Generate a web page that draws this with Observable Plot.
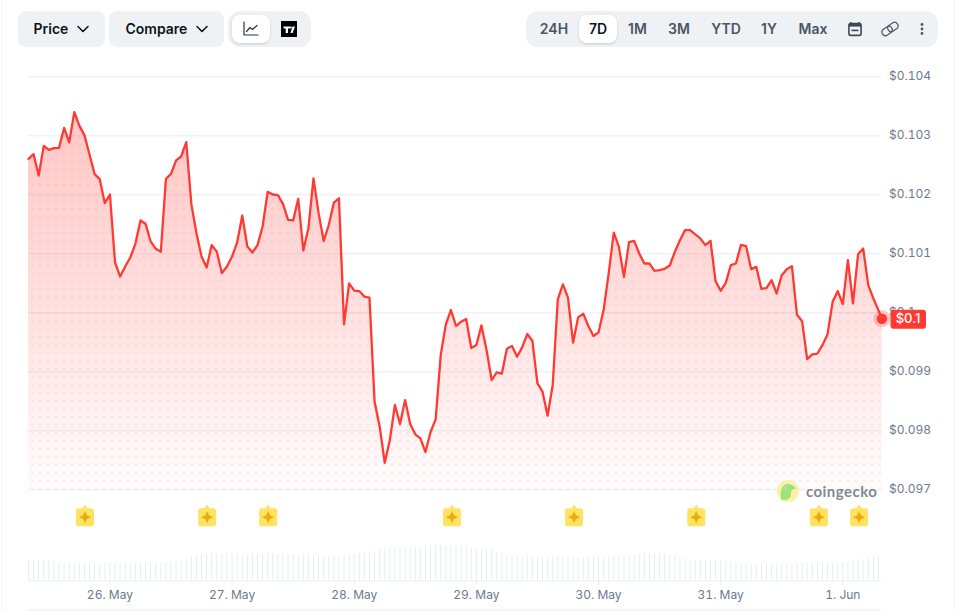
<!DOCTYPE html>
<html>
<head>
<meta charset="utf-8">
<script src="https://cdn.jsdelivr.net/npm/d3@7"></script>
<script src="https://cdn.jsdelivr.net/npm/@observablehq/plot@0.6"></script>
<style>
html,body{margin:0;padding:0;background:#fff;font-family:Inter,sans-serif;overflow:hidden}
#page{position:relative;width:956px;height:611px;overflow:hidden}
.abs{position:absolute}
.pill{position:absolute;top:11px;height:36px;background:#eff2f5;border-radius:8px}
.btnlabel{position:absolute;top:11px;height:36px;line-height:36px;font-size:14px;font-weight:600;white-space:nowrap}
.dark{color:#0d1421}
.range{color:#4b5563;transform:translateX(-50%)}
svg.icon{position:absolute;overflow:visible}
</style>
</head>
<body>
<div id="page">
  <div class="abs" style="left:1px;top:0;width:1px;height:611px;background:#f3f4f6"></div>
  <div class="abs" style="left:954px;top:0;width:1px;height:611px;background:#f3f4f6"></div>

  <div class="pill" style="left:18px;width:87px"></div>
  <div class="btnlabel dark" style="left:33.5px">Price</div>
  <svg class="icon" style="left:76px;top:24px" width="14" height="10" fill="none" stroke="#0d1421" stroke-width="1.6" stroke-linecap="round" stroke-linejoin="round"><path d="M2 2.5 L7 7.5 L12 2.5"/></svg>

  <div class="pill" style="left:109px;width:115px"></div>
  <div class="btnlabel dark" style="left:125.5px">Compare</div>
  <svg class="icon" style="left:195px;top:24px" width="14" height="10" fill="none" stroke="#0d1421" stroke-width="1.6" stroke-linecap="round" stroke-linejoin="round"><path d="M2 2.5 L7 7.5 L12 2.5"/></svg>

  <div class="pill" style="left:228px;width:83px;border-radius:12px"></div>
  <div class="abs" style="left:232px;top:15px;width:38px;height:28px;background:#fff;border-radius:8px;box-shadow:0 1px 3px rgba(20,30,50,.18)"></div>
  <svg class="icon" style="left:243px;top:21px" width="16" height="16" fill="none" stroke="#2b3443" stroke-width="1.2" stroke-linecap="round" stroke-linejoin="round"><path d="M1 1 V14 H15"/><path d="M3.5 10.5 L7 6.5 L9.5 8.5 L14 4.5"/></svg>
  <svg class="icon" style="left:281px;top:21px" width="16" height="16"><rect width="16" height="16" fill="#000"/><path d="M2.5 5.5 H9 V7.5 H7 V12 H4.7 V7.5 H2.5 Z M9.4 12 L11.6 5.5 H14 L11.6 12 Z" fill="#fff"/><circle cx="9.9" cy="6.6" r="1" fill="#fff"/></svg>

  <div class="pill" style="left:526px;width:412px;border-radius:12px"></div>
  <div class="abs" style="left:579px;top:15px;width:38px;height:28px;background:#fff;border-radius:8px;box-shadow:0 1px 3px rgba(20,30,50,.18)"></div>
  <div class="btnlabel range" style="left:554px">24H</div>
  <div class="btnlabel range dark" style="left:598px;color:#0d1421">7D</div>
  <div class="btnlabel range" style="left:637.5px">1M</div>
  <div class="btnlabel range" style="left:679px">3M</div>
  <div class="btnlabel range" style="left:726px">YTD</div>
  <div class="btnlabel range" style="left:769px">1Y</div>
  <div class="btnlabel range" style="left:813px">Max</div>
  <svg class="icon" style="left:848px;top:22px" width="14" height="14"><path d="M3 0 V2 M11 0 V2" stroke="#3f4856" stroke-width="1.6"/><rect x="0.9" y="1.6" width="12.2" height="11.8" rx="1.8" fill="none" stroke="#3f4856" stroke-width="1.6"/><rect x="0.9" y="1.6" width="12.2" height="3" fill="#3f4856"/><rect x="3.5" y="7.6" width="7" height="1.6" fill="#3f4856"/></svg>
  <svg class="icon" style="left:881px;top:22px" width="18" height="14" fill="none" stroke="#4b5563" stroke-width="1.2"><g transform="rotate(-35 9 7)"><rect x="0" y="3.5" width="11" height="7" rx="3.5"/><rect x="7" y="3.5" width="11" height="7" rx="3.5"/></g></svg>
  <svg class="icon" style="left:920px;top:22px" width="4" height="14" fill="#4b5563"><circle cx="2" cy="2.5" r="1.4"/><circle cx="2" cy="7" r="1.4"/><circle cx="2" cy="11.5" r="1.4"/></svg>

  <div class="abs" style="left:28px;top:609px;width:853px;height:2px;background:#f4f5f7"></div>
</div>
<script>
const startTime = "2025-05-25T08:00Z";
const endTime = "2025-06-01T07:42Z";
const prices = [
102610,102689,102327,102830,102762,102791,102796,103135,102887,103401,
103169,103011,102678,102350,102265,101858,102005,100858,100615,100785,
100938,101169,101565,101508,101209,101084,101034,102271,102356,102582,
102649,102892,101842,101350,100954,100768,101147,101034,100672,100785,
100954,101192,101649,101124,101022,101147,101463,102051,102005,101994,
101847,101576,101565,101932,101056,101435,102277,101689,101217,101488,
101866,101940,99804,100499,100375,100369,100273,100256,98493,98069,
97459,97843,98437,98115,98521,98115,97940,97872,97640,97979,
98194,99284,99804,100047,99776,99849,99894,99403,99454,99787,
99369,98860,98990,98968,99392,99437,99256,99414,99640,99527,
98804,98663,98256,98776,100228,100482,100256,99493,99923,99985,
99776,99606,99668,100047,100668,101358,101118,100610,101198,101220,
101005,100836,100836,100712,100723,100746,100802,101034,101231,101401,
101401,101328,101260,101147,101220,100537,100373,100508,100808,100836,
101152,101130,100740,100779,100407,100418,100553,100327,100638,100740,
100791,99966,99859,99214,99294,99310,99452,99638,100186,100367,
100147,100892,100158,100994,101090,100469,100243,100045,99898
].map(v => v / 1e6);
const volumes = [
61,61,61,61,61,58,54,54,54,53,
53,52,52,52,52,52,53,53,54,54,
54,54,54,54,54,54,53,54,56,58,
61,66,73,76,79,81,81,81,81,81,
81,81,76,76,78,81,79,79,81,79,
81,79,78,78,78,78,76,76,74,71,
71,73,76,78,81,81,81,81,89,96,
98,99,101,101,100,100,100,100,101,106,
105,105,105,105,105,105,106,99,96,96,
96,95,86,81,78,76,74,73,73,72,
72,71,71,71,71,70,71,71,70,69,
69,70,71,71,73,74,76,78,79,79,
80,80,81,80,79,79,78,76,68,64,
63,61,61,61,61,61,60,59,58,56,
54,52,50,46,51,50,49,50,51,52,
52,53,53,54,54,54,54,54,54,54,
54,56,58,61,64,66,69,71
];
const eventTimes = [
"2025-05-25T19:06Z","2025-05-26T19:06Z","2025-05-27T07:06Z","2025-05-28T19:12Z",
"2025-05-29T19:12Z","2025-05-30T19:12Z","2025-05-31T19:18Z","2025-06-01T03:12Z"
];
const dayTicks = ["2025-05-26","2025-05-27","2025-05-28","2025-05-29","2025-05-30","2025-05-31","2025-06-01"].map(d => new Date(d + "T00:00Z"));
const priceTicks = [0.097,0.098,0.099,0.1,0.101,0.102,0.103,0.104];
const lastLabel = "$0.1";

const t0 = +new Date(startTime), tEnd = new Date(endTime);
const hour = 3600e3;
const priceRows = prices.map((p,i) => ({time: i < prices.length-1 ? new Date(t0 + i*hour) : tEnd, price: p}));
const volRows = volumes.map((v,i) => ({time: new Date(t0 + i*hour), vol: v}));
const last = priceRows[priceRows.length-1];
const xDomain = [new Date(t0), tEnd];

const defsMark = () => {
  const d = d3.create("svg:defs");
  const g = d.append("linearGradient").attr("id","fade").attr("gradientUnits","userSpaceOnUse")
    .attr("x1",0).attr("x2",0).attr("y1",40).attr("y2",429);
  [[0,.29],[.5,.165],[1,.015]].forEach(([o,a]) => g.append("stop").attr("offset",o).attr("stop-color","#ff3a33").attr("stop-opacity",a));
  const p = d.append("pattern").attr("id","dots").attr("patternUnits","userSpaceOnUse")
    .attr("x",-4).attr("y",1).attr("width",8).attr("height",8);
  p.append("circle").attr("cx",4).attr("cy",4).attr("r",1.4).attr("fill","#ff3a33").attr("fill-opacity",.07);
  return d.node();
};
const badge = {draw(c){
  c.moveTo(-6.5,-9); c.lineTo(-2.5,-9); c.lineTo(0,-12.7); c.lineTo(2.5,-9); c.lineTo(6.5,-9);
  c.quadraticCurveTo(9,-9,9,-6.5); c.lineTo(9,6.5); c.quadraticCurveTo(9,9,6.5,9);
  c.lineTo(-6.5,9); c.quadraticCurveTo(-9,9,-9,6.5); c.lineTo(-9,-6.5); c.quadraticCurveTo(-9,-9,-6.5,-9); c.closePath();
}};
const star = {draw(c){
  c.moveTo(0,-6); c.lineTo(1.9,-1.9); c.lineTo(6,0); c.lineTo(1.9,1.9);
  c.lineTo(0,6); c.lineTo(-1.9,1.9); c.lineTo(-6,0); c.lineTo(-1.9,-1.9); c.closePath();
}};
const tag = {draw(c){
  const l=8.5,r=44,t=-9,b=10,k=3;
  c.moveTo(l+k,t); c.lineTo(r-k,t); c.quadraticCurveTo(r,t,r,t+k); c.lineTo(r,b-k); c.quadraticCurveTo(r,b,r-k,b);
  c.lineTo(l+k,b); c.quadraticCurveTo(l,b,l,b-k); c.lineTo(l,t+k); c.quadraticCurveTo(l,t,l+k,t); c.closePath();
}};
const evDates = eventTimes.map(d => new Date(d));
const fontStyle = {fontFamily:"Inter,sans-serif",fontSize:"12px",background:"none",overflow:"visible",position:"absolute",left:"0"};

const main = Plot.plot({
  width:956, height:475, marginLeft:28, marginRight:74.5, marginTop:16.3, marginBottom:45.7,
  style:{...fontStyle, top:"60px"},
  x:{type:"utc", domain:xDomain, axis:null},
  y:{domain:[0.097,0.104], axis:null},
  marks:[
    defsMark,
    Plot.gridY(priceTicks,{stroke:"#e9ecf1",strokeOpacity:1,strokeWidth:1}),
    Plot.areaY(priceRows,{x:"time",y1:()=>0.097,y2:"price",fill:"url(#fade)"}),
    Plot.areaY(priceRows,{x:"time",y1:()=>0.097,y2:"price",fill:"url(#dots)"}),
    Plot.axisY(priceTicks,{anchor:"right",label:null,tickSize:0,tickPadding:7,dy:-0.7,tickFormat:d3.format("$.3~f"),fill:"#6c7a8d"}),
    Plot.lineY(priceRows,{x:"time",y:"price",stroke:"#ff3a33",strokeWidth:2.3,strokeLinejoin:"round"}),
    Plot.dot([last],{x:"time",y:"price",r:8.5,fill:"#ff3a33",fillOpacity:.28,stroke:"none"}),
    Plot.dot([last],{x:"time",y:"price",r:5.2,fill:"#ff3a33",stroke:"none"}),
    Plot.dot([last],{x:"time",y:"price",symbol:tag,fill:"#ff3a33",stroke:"none"}),
    Plot.text([last],{x:"time",y:"price",text:()=>lastLabel,dx:26,dy:0.5,fill:"#fff",fontWeight:500,fontSize:13}),
    Plot.dot(evDates,{x:d=>d,frameAnchor:"bottom",dy:27.4,symbol:badge,fill:"#ffe262",stroke:"none"}),
    Plot.dot(evDates,{x:d=>d,frameAnchor:"bottom",dy:27.4,symbol:star,fill:"#e8ad0c",stroke:"none"})
  ]
});

const vol = Plot.plot({
  width:956, height:76, marginLeft:28, marginRight:74.5, marginTop:0, marginBottom:30.7,
  style:{...fontStyle, top:"535px"},
  x:{type:"utc", domain:xDomain, axis:null},
  y:{domain:[0,136], axis:null},
  marks:[
    Plot.ruleX(volRows,{x:"time",y1:0,y2:"vol",stroke:"#e9edf3",strokeWidth:1}),
    Plot.ruleY([0],{stroke:"#e9edf3",strokeWidth:1}),
    Plot.axisX(dayTicks,{anchor:"bottom",label:null,tickSize:5,tickPadding:5,stroke:"#e9edf3",fill:"#6c7a8d",tickFormat:d3.utcFormat("%-d. %b")})
  ]
});
const page = document.getElementById("page");
page.append(main, vol);

const logo = document.createElement("div");
logo.className = "abs";
logo.style.cssText = "left:777px;top:480px;width:104px;height:24px";
logo.innerHTML = `<svg width="23" height="23" style="position:absolute;left:0;top:0;overflow:visible"><circle cx="11" cy="11" r="11" fill="#fbf0a9"/><path d="M4 19 C3 10 5 4 11 4 C15 4 18 7 19 9 C15 9 13.5 11 14 14 C14.5 17 11 20 8 20 C6 20 4.5 20 4 19 Z" fill="#9ee27d"/><circle cx="9.5" cy="8" r="1.5" fill="#fff"/><circle cx="9.8" cy="8" r=".8" fill="#555"/></svg><span style="position:absolute;left:29px;top:1px;font:700 15px/20px Lato,sans-serif;letter-spacing:.45px;color:#85898f">coingecko</span>`;
page.append(logo);
</script>
</body>
</html>
